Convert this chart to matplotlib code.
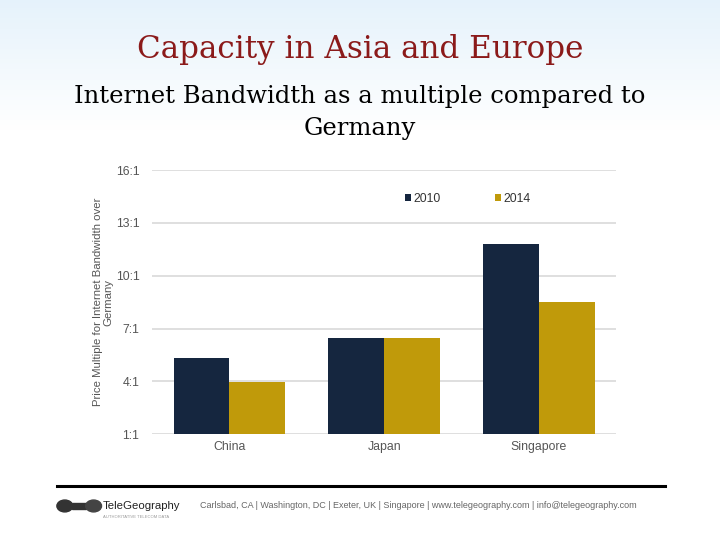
import numpy as np
import matplotlib
matplotlib.use("Agg")
import matplotlib.pyplot as plt

plt.rcParams["font.family"] = ["Liberation Sans", "DejaVu Sans"]

categories = ["China", "Japan", "Singapore"]
series_names = ["2010", "2014"]
values_2010 = [5.3, 6.45, 11.8]
values_2014 = [3.97, 6.45, 8.5]
y_ticks = [1, 4, 7, 10, 13, 16]
y_tick_labels = [f"{t}:1" for t in y_ticks]

navy = "#15263f"
gold = "#c09a0a"
gray_text = "#555555"

fig = plt.figure(figsize=(7.2, 5.4), dpi=100)

# light blue gradient at the top of the slide
bg = fig.add_axes([0, 0, 1, 1], zorder=-10)
bg.axis("off")
h = 540
grad = np.ones((h, 1, 3))
top = np.array([0.90, 0.95, 0.985])
for row in range(h):
    t = min(row / 130.0, 1.0)
    grad[row, 0, :] = top * (1 - t) + np.ones(3) * t
bg.imshow(grad, aspect="auto", extent=[0, 1, 0, 1], origin="upper")
bg.set_xlim(0, 1)
bg.set_ylim(0, 1)

serif = ["DejaVu Serif"]
fig.text(0.5, 0.908, "Capacity in Asia and Europe", ha="center", va="center",
         fontsize=22.3, color="#8b1a1a", family=serif)
fig.text(0.5, 0.792, "Internet Bandwidth as a multiple compared to\nGermany", ha="center", va="center",
         fontsize=17.5, color="black", family=serif, linespacing=1.5)

ax = fig.add_axes([0.211, 0.196, 0.645, 0.489])
x = np.arange(len(categories))
width = 0.36
ax.bar(x - width / 2, values_2010, width, color=navy, label=series_names[0], zorder=3)
ax.bar(x + width / 2, values_2014, width, color=gold, label=series_names[1], zorder=3)

ax.set_xlim(-0.5, 2.5)
ax.set_ylim(1, 16)
ax.set_yticks(y_ticks)
ax.set_yticklabels(y_tick_labels)
ax.set_xticks(x)
ax.set_xticklabels(categories)
ax.grid(axis="y", color="#d9d9d9", linewidth=1.2, zorder=0)
for s in ax.spines.values():
    s.set_visible(False)
ax.tick_params(axis="both", length=0, labelsize=8.8, labelcolor=gray_text)
ax.tick_params(axis="y", pad=9)
ax.tick_params(axis="x", pad=5)
ax.set_ylabel("Price Multiple for Internet Bandwidth over\nGermany", fontsize=8.2,
              color=gray_text, labelpad=2, linespacing=0.95)

ax.legend(loc="upper center", bbox_to_anchor=(0.68, 0.955), ncol=2, frameon=False,
          fontsize=8.8, handlelength=0.5, handleheight=0.5, handletextpad=0.2,
          columnspacing=4.4, labelcolor="#333333")

# footer
fig.add_artist(plt.Line2D([0.079, 0.924], [0.1, 0.1], color="black", linewidth=2.2))
fig.text(0.142, 0.063, "TeleGeography", ha="left", va="center", fontsize=8.2, color="#222222")
fig.text(0.143, 0.042, "AUTHORITATIVE TELECOM DATA", ha="left", va="center", fontsize=3, color="#999999")
fig.add_artist(plt.Circle((0.09, 0.063), 0.011, transform=fig.transFigure, color="#333333"))
fig.add_artist(plt.Rectangle((0.1, 0.057), 0.02, 0.012, transform=fig.transFigure, color="#333333"))
fig.add_artist(plt.Circle((0.13, 0.063), 0.011, transform=fig.transFigure, color="#444444"))
fig.text(0.278, 0.063, "Carlsbad, CA | Washington, DC | Exeter, UK | Singapore | www.telegeography.com | info@telegeography.com",
         ha="left", va="center", fontsize=6.5, color="#666666")

fig.savefig("out.png", dpi=100)
